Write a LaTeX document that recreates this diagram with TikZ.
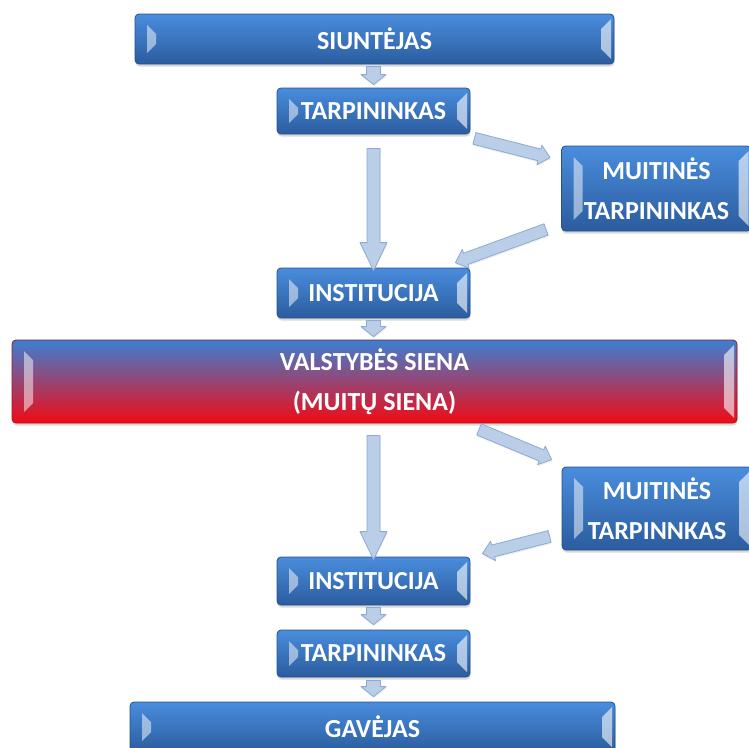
\documentclass[tikz,border=0pt]{standalone}
\usepackage{fontspec}
\setmainfont{Carlito}
\usetikzlibrary{calc,shadows}
\definecolor{boxtop}{HTML}{4A8DDD}
\definecolor{boxmid}{HTML}{3A79C8}
\definecolor{boxbot}{HTML}{2B5C9E}
\definecolor{boxline}{HTML}{24518B}
\definecolor{walltop}{HTML}{3C7FD2}
\definecolor{wallmid}{HTML}{96508A}
\definecolor{wallbot}{HTML}{F20A14}
\definecolor{wallline}{HTML}{A0141E}
\definecolor{arrfill}{HTML}{BACEE8}
\definecolor{arrline}{HTML}{8CAAD5}
\def\blockarrow[#1](#2)(#3)(#4:#5:#6){\draw[#1] let \p1=(#2), \p2=(#3), \n1={atan2(\y2-\y1,\x2-\x1)} in ($(\p1)+(\n1+90:#4)$) -- ($(\p2)+(\n1+180:#6)+(\n1+90:#4)$) -- ($(\p2)+(\n1+180:#6)+(\n1+90:#5)$) -- (\p2) -- ($(\p2)+(\n1+180:#6)+(\n1-90:#5)$) -- ($(\p2)+(\n1+180:#6)+(\n1-90:#4)$) -- ($(\p1)+(\n1-90:#4)$) -- cycle;}
\tikzset{
	bevel/.style={rounded corners=4pt, line width=0.8pt, text=white, align=center, inner sep=2pt,
		font=\fontsize{26}{40}\selectfont\bfseries,
		drop shadow={shadow xshift=0.5pt, shadow yshift=-2.5pt, opacity=0.3},
		path picture={
			\fill[white, opacity=0.5, sharp corners] ([xshift=12pt,yshift=-11pt]path picture bounding box.north west) -- ([xshift=21pt,yshift=-20pt]path picture bounding box.north west) -- ([xshift=21pt,yshift=20pt]path picture bounding box.south west) -- ([xshift=12pt,yshift=11pt]path picture bounding box.south west) -- cycle;
			\fill[white, opacity=0.6, sharp corners] ([xshift=-3pt,yshift=-5pt]path picture bounding box.north east) -- ([xshift=-3pt,yshift=5pt]path picture bounding box.south east) -- ([xshift=-13pt,yshift=15pt]path picture bounding box.south east) -- ([xshift=-13pt,yshift=-15pt]path picture bounding box.north east) -- cycle;
		}},
	bluebox/.style={bevel, draw=boxline, top color=boxtop, middle color=boxmid, bottom color=boxbot},
	wallbox/.style={bevel, draw=wallline, top color=walltop, middle color=wallmid, bottom color=wallbot},
	arrowpath/.style={draw=arrline, fill=arrfill, line width=0.8pt, line join=round,
		drop shadow={shadow xshift=0.5pt, shadow yshift=-1.5pt, opacity=0.15}}
}
\begin{document}
\begin{tikzpicture}[x=1pt, y=-1pt]
		%%%%% START %%%%%
		\useasboundingbox (0,0) rectangle (749,747);
		
		\node[bluebox, minimum width=479pt, minimum height=50pt] (sender) at (374.5, 39) {SIUNTĖJAS};
		\node[bluebox, minimum width=193pt, minimum height=46pt] (tarp1) at (373.5, 111) {TARPININKAS};
		\node[bluebox, minimum width=190pt, minimum height=85pt] (muit1) at (656.5, 188.5) {MUITINĖS\\TARPININKAS};
		\node[bluebox, minimum width=193pt, minimum height=50pt] (inst1) at (373.5, 293) {INSTITUCIJA};
		
		\node[wallbox, minimum width=725pt, minimum height=83pt] (wall) at (374.5, 381.5) {VALSTYBĖS SIENA\\(MUITŲ SIENA)};
		
		\node[bluebox, minimum width=190pt, minimum height=83pt] (muit2) at (657, 508.5) {MUITINĖS\\TARPINNKAS};
		\node[bluebox, minimum width=193pt, minimum height=48pt] (inst2) at (373.5, 581) {INSTITUCIJA};
		\node[bluebox, minimum width=193pt, minimum height=47pt] (tarp2) at (373.5, 653.5) {TARPININKAS};
		\node[bluebox, minimum width=485pt, minimum height=50pt] (recv) at (372.5, 727) {GAVĖJAS};
		
		% arrow ends
		\coordinate (a1s) at ($(sender.south)+(-1,2)$);
		\coordinate (a1e) at ($(tarp1.north)+(0,-3)$);
		\coordinate (a2s) at ($(tarp1.south east)+(4,4)$);
		\coordinate (a2e) at ($(muit1.north west)+(-11,12)$);
		\coordinate (a3s) at ($(tarp1.south)+(0,14)$);
		\coordinate (a3e) at ($(inst1.north)+(0,3)$);
		\coordinate (a4s) at ($(muit1.south west)+(-15,-2)$);
		\coordinate (a4e) at ($(inst1.north east)+(-15,-5)$);
		\coordinate (a5s) at ($(inst1.south)+(0,2)$);
		\coordinate (a5e) at ($(wall.north)+(-1,-3)$);
		\coordinate (a6s) at ($(wall.south)+(104.5,6)$);
		\coordinate (a6e) at ($(muit2.north west)+(-10,-7)$);
		\coordinate (a7s) at ($(wall.south)+(-1,12)$);
		\coordinate (a7e) at ($(inst2.north)+(0,3)$);
		\coordinate (a8s) at ($(muit2.south west)+(-12,-14)$);
		\coordinate (a8e) at ($(inst2.north east)+(12,-3)$);
		\coordinate (a9s) at ($(inst2.south)+(0,2)$);
		\coordinate (a9e) at ($(tarp2.north)+(0,-5)$);
		\coordinate (a10s) at ($(tarp2.south)+(0,3)$);
		\coordinate (a10e) at ($(recv.north)+(1,-5)$);
		
		\blockarrow[arrowpath](a1s)(a1e)(7pt:12.5pt:10pt)
		\blockarrow[arrowpath](a2s)(a2e)(6pt:10pt:11pt)
		\blockarrow[arrowpath](a3s)(a3e)(6.5pt:13.5pt:28pt)
		\blockarrow[arrowpath](a4s)(a4e)(6pt:10pt:11pt)
		\blockarrow[arrowpath](a5s)(a5e)(7pt:12.5pt:10pt)
		\blockarrow[arrowpath](a6s)(a6e)(6pt:10pt:11pt)
		\blockarrow[arrowpath](a7s)(a7e)(6.5pt:13.5pt:28pt)
		\blockarrow[arrowpath](a8s)(a8e)(6pt:10pt:11pt)
		\blockarrow[arrowpath](a9s)(a9e)(7pt:12.5pt:10pt)
		\blockarrow[arrowpath](a10s)(a10e)(7pt:12.5pt:10pt)
		
		%%%%% END %%%%%
	\end{tikzpicture}
\end{document}
